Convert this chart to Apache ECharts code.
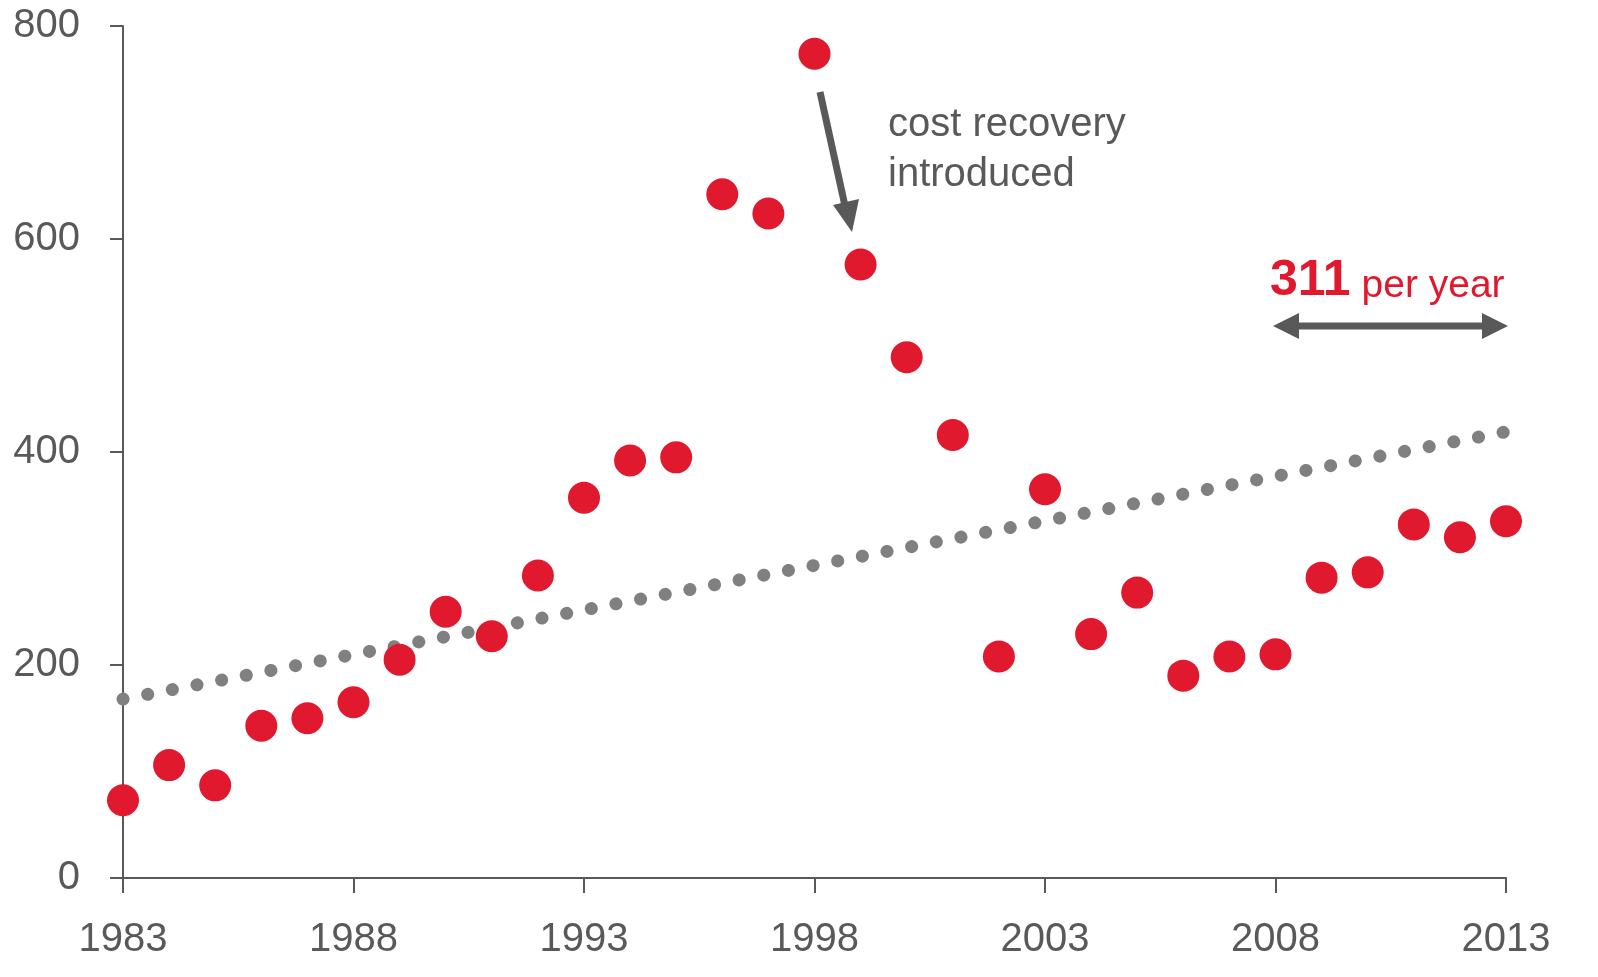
<!DOCTYPE html>
<html><head><meta charset="utf-8">
<script src="https://cdn.jsdelivr.net/npm/echarts@6/dist/echarts.min.js"></script>
<style>html,body{margin:0;padding:0;background:#fff}#c{width:1598px;height:977px}</style>
</head><body><div id="c"></div>
<script>
const years = [];
for (let y = 1983; y <= 2013; y++) years.push(String(y));
const values = [73,106,87,143,150,165,205,250,227,284,357,392,395,642,624,774,576,489,416,208,365,229,268,190,208,210,282,287,332,320,335];
const trendYears = ['1983','2013'];
const trendValues = [168,419];
const yTicks = [0,200,400,600,800];

const GRAY = '#595959', RED = '#E0192F', FONT = 'Liberation Sans, Arial, sans-serif';
const chart = echarts.init(document.getElementById('c'));
chart.setOption({
  animation:false,
  grid:{left:123,right:92,top:26,bottom:99},
  xAxis:{type:'category',data:years,boundaryGap:false,
    axisLine:{lineStyle:{color:GRAY,width:2}},
    axisTick:{interval:4,length:15,lineStyle:{color:GRAY,width:2}},
    axisLabel:{interval:4,margin:42,fontSize:40,color:GRAY,fontFamily:FONT},
    splitLine:{show:false}},
  yAxis:{type:'value',min:yTicks[0],max:yTicks[yTicks.length-1],interval:200,
    axisLine:{show:true,lineStyle:{color:GRAY,width:2}},
    axisTick:{show:true,length:13,lineStyle:{color:GRAY,width:2}},
    axisLabel:{margin:43,fontSize:40,color:GRAY,fontFamily:FONT},
    splitLine:{show:false}},
  series:[
    {type:'line',data:trendYears.map((y,i)=>[y,trendValues[i]]),symbol:'none',z:1,
      lineStyle:{color:'#808080',width:13,type:[0.1,25],cap:'round'}},
    {type:'scatter',data:years.map((y,i)=>[y,values[i]]),symbolSize:32,z:2,
      itemStyle:{color:RED,opacity:1}}
  ],
  graphic:[
    {type:'line',shape:{x1:820,y1:92,x2:845,y2:206},style:{stroke:GRAY,lineWidth:7}},
    {type:'polygon',shape:{points:[[852,232],[833,205],[859,199]]},style:{fill:GRAY}},
    {type:'text',left:888,top:100,style:{text:'cost recovery\nintroduced',font:'40px '+FONT,fill:GRAY,lineHeight:50}},
    {type:'line',shape:{x1:1295,y1:326,x2:1486,y2:326},style:{stroke:GRAY,lineWidth:7}},
    {type:'polygon',shape:{points:[[1273,326],[1299,313],[1299,339]]},style:{fill:GRAY}},
    {type:'polygon',shape:{points:[[1508,326],[1482,313],[1482,339]]},style:{fill:GRAY}},
    {type:'text',left:1270,top:256,style:{text:'{a|311}{b| per year}',
      rich:{a:{fontSize:50,fontWeight:'bold',fill:RED,fontFamily:FONT,verticalAlign:'bottom'},
            b:{fontSize:39,fill:RED,fontFamily:FONT,verticalAlign:'bottom'}}}}
  ]
});
</script></body></html>
